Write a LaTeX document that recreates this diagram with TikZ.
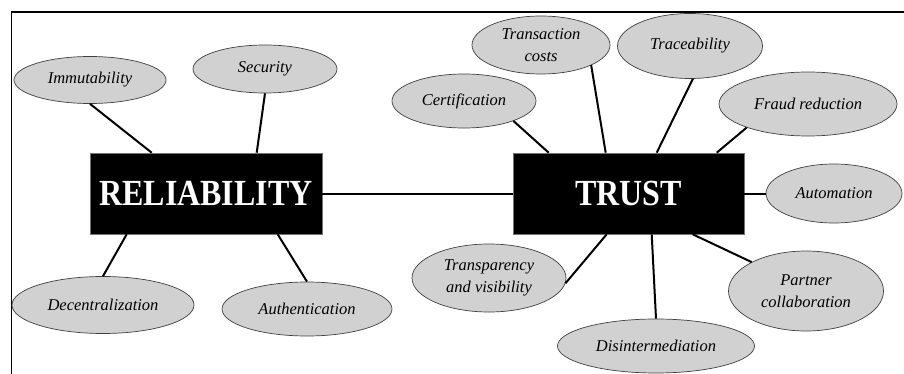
\documentclass[tikz,border=0pt]{standalone}
\usepackage{fontspec}
\setmainfont{Liberation Serif}
\usetikzlibrary{shapes.geometric}

\newcommand{\hubtext}[1]{\scalebox{1}[1.15]{#1}}

\tikzset{
  topic/.style={ellipse, draw=black!75, line width=0.7pt, fill=black!18,
    inner sep=0pt, align=center,
    font=\fontsize{16.5}{22}\selectfont\itshape},
  hub/.style={rectangle, draw=black!55, line width=0.6pt, fill=black,
    text=white, inner sep=0pt,
    font=\fontsize{32}{36}\selectfont\bfseries},
  link/.style={line width=2pt, black},
  frameline/.style={line width=1.4pt, black}
}

\begin{document}
\begin{tikzpicture}[x=1pt, y=-1pt]
  \useasboundingbox (0,0) rectangle (904,374);
  \coordinate (frameTL) at (11.5,12);
  \coordinate (frameBL) at (11.5,374);
  \coordinate (frameTR) at (904,12);
  \draw[frameline] (frameBL) -- (frameTL) -- (frameTR);

  % central boxes
  \node[hub, minimum width=232pt, minimum height=81pt] (rel) at (206,193.5) {\hubtext{RELIABILITY}};
  \node[hub, minimum width=231pt, minimum height=81pt] (trust) at (628.5,193.5) {\hubtext{TRUST}};

  % attributes of reliability
  \node[topic, minimum width=152pt, minimum height=47pt] (imm) at (90,80) {Immutability};
  \node[topic, minimum width=144pt, minimum height=48pt] (sec) at (265,69) {Security};
  \node[topic, minimum width=182pt, minimum height=57pt] (dec) at (103,305) {Decentralization};
  \node[topic, minimum width=170pt, minimum height=54pt] (auth) at (307,309) {Authentication};

  % attributes of trust
  \node[topic, minimum width=144pt, minimum height=54pt] (cert) at (464,101) {Certification};
  \node[topic, minimum width=138pt, minimum height=58pt] (tc) at (541,45) {Transaction\\costs};
  \node[topic, minimum width=145pt, minimum height=65pt] (trace) at (690,46) {Traceability};
  \node[topic, minimum width=178pt, minimum height=64pt] (fraud) at (808,104) {Fraud reduction};
  \node[topic, minimum width=136pt, minimum height=59pt] (aut) at (834,193.5) {Automation};
  \node[topic, minimum width=154pt, minimum height=68pt] (trans) at (489,278) {Transparency\\and visibility};
  \node[topic, minimum width=197pt, minimum height=54pt] (dis) at (656,346) {Disintermediation};
  \node[topic, minimum width=155pt, minimum height=80pt] (part) at (806,291) {Partner\\collaboration};

  % connectors
  \draw[link] (rel) -- (trust);
  \draw[link] (imm.south) -- ([xshift=62pt]rel.north west);
  \draw[link] (sec.south) -- ([xshift=167pt]rel.north west);
  \draw[link] (dec.north) -- ([xshift=37pt]rel.south west);
  \draw[link] (auth.north) -- ([xshift=188pt]rel.south west);

  \draw[link] (cert.-22) -- ([xshift=36pt]trust.north west);
  \draw[link] (tc.-22) -- ([xshift=93pt]trust.north west);
  \draw[link] (trace.-85) -- ([xshift=144pt]trust.north west);
  \draw[link] (fraud.-159) -- ([xshift=204pt]trust.north west);
  \draw[link] (trust) -- (aut);
  \draw[link] (trans.-4) -- ([xshift=94pt]trust.south west);
  \draw[link] (dis.north) -- ([xshift=139pt]trust.south west);
  \draw[link] (part.152) -- ([xshift=180pt]trust.south west);
\end{tikzpicture}
\end{document}
